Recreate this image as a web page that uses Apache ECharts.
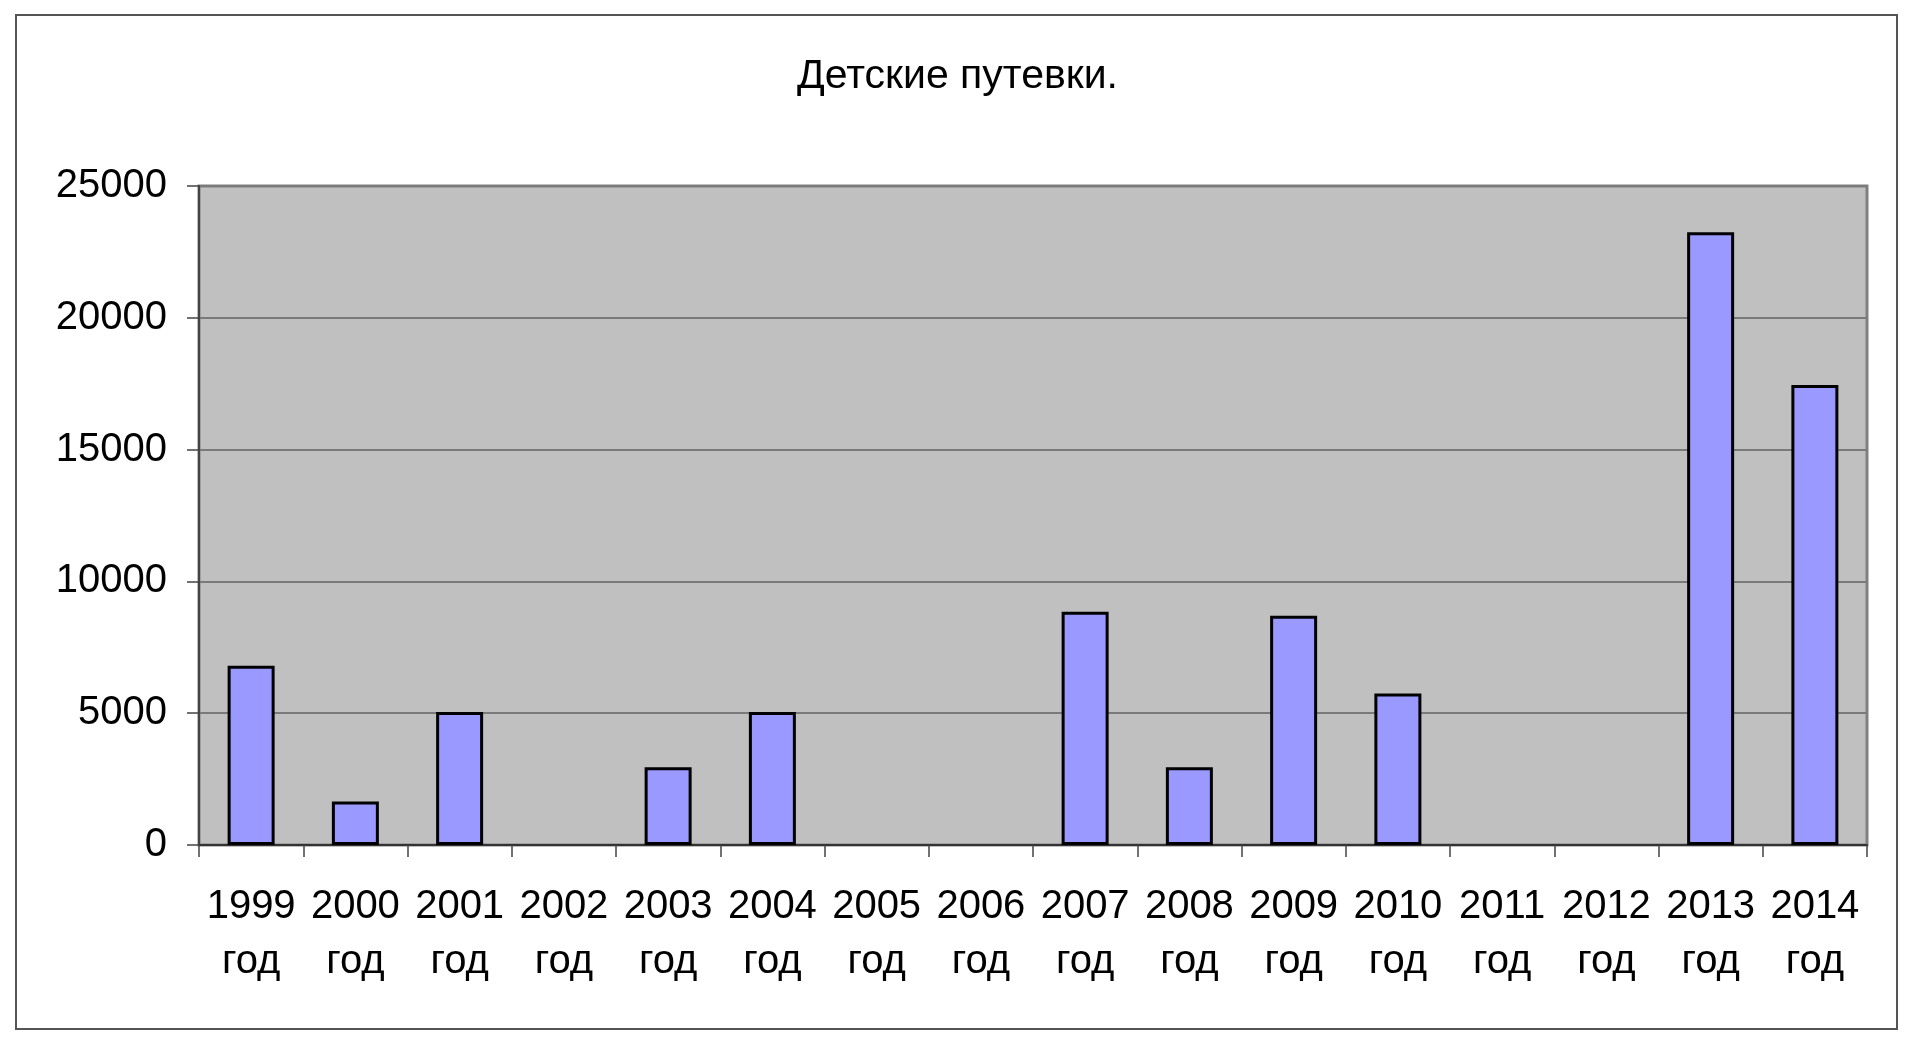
<!DOCTYPE html>
<html>
<head>
<meta charset="utf-8">
<script src="https://cdn.jsdelivr.net/npm/echarts@6/dist/echarts.min.js"></script>
<style>
html,body{margin:0;padding:0;background:#fff;}
#chart{width:1915px;height:1046px;}
</style>
</head>
<body>
<div id="chart"></div>
<script>
const titleText = 'Детские путевки.';
const years = ['1999','2000','2001','2002','2003','2004','2005','2006','2007','2008','2009','2010','2011','2012','2013','2014'];
const categories = years.map(y => y + '\nгод');
const values = [6800, 1650, 5050, null, 2950, 5050, null, null, 8850, 2950, 8700, 5750, null, null, 23250, 17450];
const yTicks = { min: 0, max: 25000, interval: 5000 };

const FONT = '"Liberation Sans", Arial, sans-serif';
const chart = echarts.init(document.getElementById('chart'));
chart.setOption({
  animation: false,
  backgroundColor: '#ffffff',
  graphic: [{
    type: 'rect',
    shape: { x: 16, y: 15, width: 1881, height: 1014 },
    style: { fill: 'none', stroke: '#555555', lineWidth: 2 },
    z: -1
  }],
  title: {
    text: titleText,
    left: 'center',
    top: 51,
    textStyle: { fontFamily: FONT, fontSize: 41, fontWeight: 'normal', color: '#000' }
  },
  grid: {
    left: 199, right: 48, top: 186, bottom: 201,
    show: true,
    backgroundColor: '#C0C0C0',
    borderColor: '#808080',
    borderWidth: 3
  },
  xAxis: {
    type: 'category',
    data: categories,
    axisLine: { show: true, lineStyle: { color: '#333', width: 2 } },
    axisTick: { show: true, length: 12, lineStyle: { color: '#444', width: 1.5 } },
    axisLabel: {
      interval: 0,
      margin: 34,
      fontFamily: FONT,
      fontSize: 40,
      lineHeight: 55,
      color: '#000'
    }
  },
  yAxis: {
    type: 'value',
    min: yTicks.min, max: yTicks.max, interval: yTicks.interval,
    axisLine: { show: true, lineStyle: { color: '#444', width: 2 } },
    axisTick: { show: true, length: 12, lineStyle: { color: '#444', width: 1.5 } },
    splitLine: { show: true, lineStyle: { color: '#7a7a7a', width: 2 } },
    axisLabel: {
      margin: 32,
      fontFamily: FONT,
      fontSize: 40,
      color: '#000',
      padding: [6, 0, 0, 0],
      formatter: v => String(v)
    }
  },
  series: [{
    type: 'bar',
    data: values,
    barWidth: 47,
    itemStyle: { color: '#9999FF', borderColor: '#000', borderWidth: 3 }
  }]
});
</script>
</body>
</html>
